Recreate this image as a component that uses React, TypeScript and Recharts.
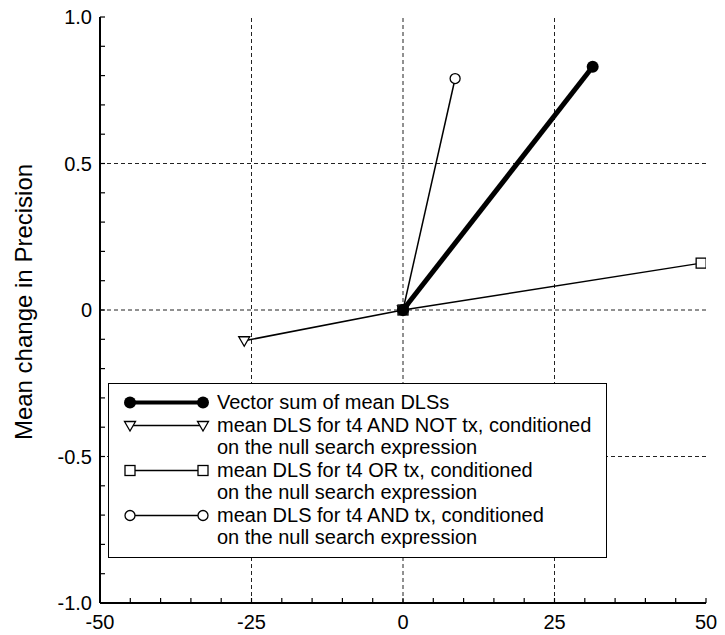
import { Legend, ReferenceLine, Scatter, ScatterChart, XAxis, YAxis } from "recharts"

const FONT = "'Liberation Sans', Arial, Helvetica, sans-serif"

// end points of each mean DLS vector (all start at the origin)
const vectorSum = [
  { x: 0, y: 0 },
  { x: 31.3, y: 0.83 },
]
const andNotTx = [
  { x: 0, y: 0 },
  { x: -26.2, y: -0.105 },
]
const orTx = [
  { x: 0, y: 0 },
  { x: 49.2, y: 0.16 },
]
const andTx = [
  { x: 0, y: 0 },
  { x: 8.6, y: 0.79 },
]

const xMajorTicks = [-50, -25, 0, 25, 50]
const xTickLabels = ["-50", "-25", "0", "25", "50"]
const yMajorTicks = [-1, -0.5, 0, 0.5, 1]
const yTickLabels = ["-1.0", "-0.5", "0", "0.5", "1.0"]
const xMinorTicks = [-50, -45, -40, -35, -30, -25, -20, -15, -10, -5, 0, 5, 10, 15, 20, 25, 30, 35, 40, 45, 50]
const yMinorTicks = [-1, -0.9, -0.8, -0.7, -0.6, -0.5, -0.4, -0.3, -0.2, -0.1, 0, 0.1, 0.2, 0.3, 0.4, 0.5, 0.6, 0.7, 0.8, 0.9, 1]
const xGrid = [-25, 0, 25]
const yGrid = [-0.5, 0, 0.5]

const yTitle = "Mean change in Precision"
const legendLabels = [
  ["Vector sum of mean DLSs"],
  ["mean DLS for t4 AND NOT tx, conditioned", "on the null search expression"],
  ["mean DLS for t4 OR tx, conditioned", "on the null search expression"],
  ["mean DLS for t4 AND tx, conditioned", "on the null search expression"],
]
const legendMarkers = ["dot", "triangle", "square", "circle"]

const near = (a: number, b: number) => Math.abs(a - b) < 1e-9

function Marker({ kind, cx, cy }: { kind: string; cx: number; cy: number }) {
  if (kind === "dot") return <circle cx={cx} cy={cy} r={6} fill="#000" />
  if (kind === "circle") return <circle cx={cx} cy={cy} r={5} fill="#fff" stroke="#000" strokeWidth={1.3} />
  if (kind === "square")
    return <rect x={cx - 5} y={cy - 5} width={10} height={10} fill="#fff" stroke="#000" strokeWidth={1.3} />
  return (
    <polygon
      points={`${cx - 5.5},${cy - 4} ${cx + 5.5},${cy - 4} ${cx},${cy + 5.5}`}
      fill="#fff"
      stroke="#000"
      strokeWidth={1.3}
    />
  )
}

const shapeOf = (kind: string) => (p: any) => <Marker kind={kind} cx={p.cx} cy={p.cy} />

function BottomTick(props: any) {
  const { x, y, payload } = props
  const ay = y - 8
  const idx = xMajorTicks.findIndex((v) => near(v, payload.value))
  return (
    <g>
      <line x1={x} x2={x} y1={ay} y2={ay - 5} stroke="#000" strokeWidth={1.2} />
      {idx >= 0 && (
        <text x={x} y={y} dy="0.88em" textAnchor="middle" fontFamily={FONT} fontSize={20} fill="#000">
          {xTickLabels[idx]}
        </text>
      )}
    </g>
  )
}

function TopTick(props: any) {
  const { x, y } = props
  return <line x1={x} x2={x} y1={y} y2={y + 5} stroke="#000" strokeWidth={1.2} />
}

function LeftTick(props: any) {
  const { x, y, payload } = props
  const ax = x + 8
  const idx = yMajorTicks.findIndex((v) => near(v, payload.value))
  return (
    <g>
      <line x1={ax} x2={ax + 5} y1={y} y2={y} stroke="#000" strokeWidth={1.2} />
      {idx >= 0 && (
        <text x={x} y={y} dy="0.36em" textAnchor="end" fontFamily={FONT} fontSize={20} fill="#000">
          {yTickLabels[idx]}
        </text>
      )}
    </g>
  )
}

function RightTick(props: any) {
  const { x, y } = props
  return <line x1={x} x2={x - 5} y1={y} y2={y} stroke="#000" strokeWidth={1.2} />
}

function YTitle(props: any) {
  const vb = props.viewBox
  const cx = vb.x + 23.5
  const cy = vb.y + vb.height / 2 - 8
  return (
    <text
      x={cx}
      y={cy}
      dy="0.355em"
      transform={`rotate(-90 ${cx} ${cy})`}
      textAnchor="middle"
      fontFamily={FONT}
      fontSize={24}
      fill="#000"
    >
      {yTitle}
    </text>
  )
}

function LegendBox() {
  return (
    <div
      style={{
        width: 499,
        height: 175,
        boxSizing: "border-box",
        border: "1.5px solid #000",
        background: "#fff",
        paddingTop: 7,
        fontFamily: FONT,
        fontSize: 20,
        lineHeight: "22.5px",
        color: "#000",
      }}
    >
      {legendLabels.map((lines, i) => (
        <div key={i} style={{ display: "flex", alignItems: "flex-start" }}>
          <svg width={108} height={22.5} style={{ flex: "none", display: "block" }}>
            <line
              x1={21}
              x2={94}
              y1={11.5}
              y2={11.5}
              stroke="#000"
              strokeWidth={i === 0 ? 4 : 1.3}
            />
            <Marker kind={legendMarkers[i]} cx={21} cy={11.5} />
            <Marker kind={legendMarkers[i]} cx={94} cy={11.5} />
          </svg>
          <div style={{ whiteSpace: "nowrap" }}>
            {lines.map((t, j) => (
              <div key={j}>{t}</div>
            ))}
          </div>
        </div>
      ))}
    </div>
  )
}

export default function App() {
  return (
    <div style={{ position: "absolute", left: 0, top: 0, width: 725, height: 635, background: "#fff" }}>
      <ScatterChart width={725} height={635} margin={{ top: 17, right: 19, bottom: 0, left: 0 }}>
        <XAxis
          xAxisId="bottom"
          dataKey="x"
          type="number"
          domain={[-50, 50]}
          allowDataOverflow
          ticks={xMinorTicks}
          interval={0}
          height={32}
          tickSize={0}
          tickMargin={8}
          tick={BottomTick}
          axisLine={{ stroke: "#000", strokeWidth: 2 }}
        />
        <XAxis
          xAxisId="top"
          orientation="top"
          dataKey="x"
          type="number"
          domain={[-50, 50]}
          allowDataOverflow
          ticks={xMinorTicks}
          interval={0}
          height={0}
          tickSize={0}
          tickMargin={0}
          tick={TopTick}
          axisLine={{ stroke: "#000", strokeWidth: 1.6 }}
        />
        <YAxis
          yAxisId="left"
          dataKey="y"
          type="number"
          domain={[-1, 1]}
          allowDataOverflow
          ticks={yMinorTicks}
          interval={0}
          width={100}
          tickSize={0}
          tickMargin={8}
          tick={LeftTick}
          axisLine={{ stroke: "#000", strokeWidth: 2 }}
          label={{ content: YTitle }}
        />
        <YAxis
          yAxisId="right"
          orientation="right"
          dataKey="y"
          type="number"
          domain={[-1, 1]}
          allowDataOverflow
          ticks={yMinorTicks}
          interval={0}
          width={0}
          tickSize={0}
          tickMargin={0}
          tick={RightTick}
          axisLine={{ stroke: "#000", strokeWidth: 1.6 }}
        />
        {xGrid.map((v) => (
          <ReferenceLine
            key={`gx${v}`}
            x={v}
            xAxisId="bottom"
            yAxisId="left"
            stroke="#222"
            strokeWidth={1}
            strokeDasharray="4 3"
          />
        ))}
        {yGrid.map((v) => (
          <ReferenceLine
            key={`gy${v}`}
            y={v}
            xAxisId="bottom"
            yAxisId="left"
            stroke="#222"
            strokeWidth={1}
            strokeDasharray="4 3"
          />
        ))}
        <Scatter
          name="mean DLS for t4 AND NOT tx"
          data={andNotTx}
          xAxisId="bottom"
          yAxisId="left"
          line={{ stroke: "#000", strokeWidth: 1.5 }}
          lineType="joint"
          shape={shapeOf("triangle")}
          isAnimationActive={false}
        />
        <Scatter
          name="mean DLS for t4 OR tx"
          data={orTx}
          xAxisId="bottom"
          yAxisId="left"
          line={{ stroke: "#000", strokeWidth: 1.5 }}
          lineType="joint"
          shape={shapeOf("square")}
          isAnimationActive={false}
        />
        <Scatter
          name="mean DLS for t4 AND tx"
          data={andTx}
          xAxisId="bottom"
          yAxisId="left"
          line={{ stroke: "#000", strokeWidth: 1.5 }}
          lineType="joint"
          shape={shapeOf("circle")}
          isAnimationActive={false}
        />
        <Scatter
          name="Vector sum of mean DLSs"
          data={vectorSum}
          xAxisId="bottom"
          yAxisId="left"
          line={{ stroke: "#000", strokeWidth: 5 }}
          lineType="joint"
          shape={shapeOf("dot")}
          isAnimationActive={false}
        />
        <Legend
          layout="vertical"
          align="center"
          verticalAlign="middle"
          content={LegendBox}
          wrapperStyle={{ left: 108, top: 383, width: 499, height: 175 }}
        />
      </ScatterChart>
    </div>
  )
}
